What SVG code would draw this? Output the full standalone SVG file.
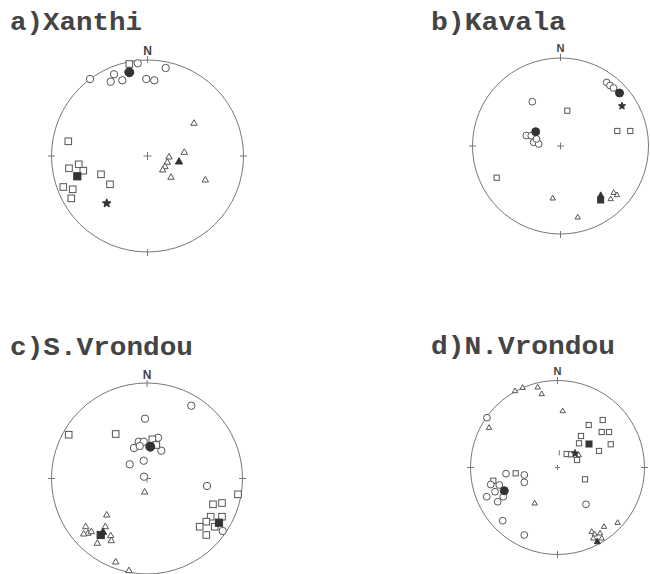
<svg xmlns="http://www.w3.org/2000/svg" xmlns:xlink="http://www.w3.org/1999/xlink" width="650" height="574" viewBox="0 0 650 574">
<style>
.title{font-family:"Liberation Mono","Courier New",monospace;font-weight:bold;font-size:26px;fill:#444}
.nlab{font-family:"Liberation Sans",Arial,sans-serif;font-weight:bold;fill:#444;text-anchor:middle}
.net{fill:none;stroke:#777;stroke-width:1}
.tick{stroke:#777;stroke-width:1}
.o{fill:#fff;stroke:#555;stroke-width:1}
.f{fill:#333;stroke:#333;stroke-width:1}
</style>
<defs>
<circle id="oc" class="o" r="3.7"/>
<circle id="fc" class="f" r="4.5"/>
<rect id="os" class="o" x="-3.3" y="-3.3" width="6.6" height="6.6"/>
<rect id="fs" class="f" x="-3.6" y="-3.6" width="7.2" height="7.2"/>
<polygon id="ot" class="o" points="0,-3.6 3.2,2 -3.2,2"/>
<polygon id="ft" class="f" points="0,-4 3.6,2.3 -3.6,2.3"/>
<polygon id="st" class="f" points="0,-4.5 1.18,-1.62 4.28,-1.39 1.9,0.62 2.65,3.64 0,2 -2.65,3.64 -1.9,0.62 -4.28,-1.39 -1.18,-1.62"/>
<circle id="oc2" class="o" r="3.4"/>
<circle id="fc2" class="f" r="4"/>
<rect id="os2" class="o" x="-2.6" y="-2.6" width="5.2" height="5.2"/>
<rect id="fs2" class="f" x="-3" y="-3" width="6" height="6"/>
<polygon id="ot2" class="o" points="0,-3 2.7,1.7 -2.7,1.7"/>
<polygon id="ft2" class="f" points="0,-3.6 3,2 -3,2"/>
<polygon id="st2" class="f" points="0,-3.8 1,-1.37 3.6,-1.17 1.6,0.52 2.23,3.07 0,1.7 -2.23,3.07 -1.6,0.52 -3.6,-1.17 -1,-1.37"/>
</defs>
<rect width="650" height="574" fill="#fff"/>

<g id="net-a">
<text class="title" x="10" y="30" textLength="132" lengthAdjust="spacingAndGlyphs">a)Xanthi</text>
<text class="nlab" x="147.5" y="54.5" font-size="12">N</text>
<circle class="net" cx="147.5" cy="156" r="96"/>
<line class="tick" x1="147.5" y1="56" x2="147.5" y2="63"/>
<line class="tick" x1="147.5" y1="249" x2="147.5" y2="256"/>
<line class="tick" x1="48" y1="156" x2="55" y2="156"/>
<line class="tick" x1="240" y1="156" x2="247" y2="156"/>
<line class="tick" x1="143.5" y1="156" x2="151.5" y2="156"/>
<line class="tick" x1="147.5" y1="152" x2="147.5" y2="160"/>
<use xlink:href="#oc" x="90" y="79"/>
<use xlink:href="#oc" x="114" y="74.3"/>
<use xlink:href="#oc" x="110.7" y="81.7"/>
<use xlink:href="#oc" x="122.3" y="80.3"/>
<use xlink:href="#oc" x="146.3" y="79"/>
<use xlink:href="#oc" x="154.3" y="80.3"/>
<use xlink:href="#oc" x="165.7" y="68"/>
<use xlink:href="#oc" x="137.7" y="63.3"/>
<use xlink:href="#os" x="129.3" y="64"/>
<use xlink:href="#fc" x="129.3" y="72.3"/>
<use xlink:href="#ot" x="194" y="123.3"/>
<use xlink:href="#ot" x="184.3" y="152.3"/>
<use xlink:href="#ot" x="169" y="157"/>
<use xlink:href="#ot" x="167.3" y="162.3"/>
<use xlink:href="#ot" x="165" y="166.7"/>
<use xlink:href="#ot" x="162.7" y="170"/>
<use xlink:href="#ot" x="171" y="177.3"/>
<use xlink:href="#ot" x="205.3" y="180"/>
<use xlink:href="#ft" x="179" y="161.7"/>
<use xlink:href="#os" x="68.3" y="141.3"/>
<use xlink:href="#os" x="78.7" y="164.3"/>
<use xlink:href="#os" x="69" y="168.3"/>
<use xlink:href="#os" x="83.3" y="170.7"/>
<use xlink:href="#os" x="101" y="174.3"/>
<use xlink:href="#os" x="110" y="184.3"/>
<use xlink:href="#os" x="63.3" y="187"/>
<use xlink:href="#os" x="72.7" y="189.3"/>
<use xlink:href="#os" x="71.3" y="198.3"/>
<use xlink:href="#fs" x="77.3" y="176.3"/>
<use xlink:href="#st" x="106.7" y="203.3"/>
</g>

<g id="net-b">
<text class="title" x="431" y="30" textLength="135" lengthAdjust="spacingAndGlyphs">b)Kavala</text>
<text class="nlab" x="560.5" y="51.7" font-size="11">N</text>
<circle class="net" cx="560.5" cy="146" r="88"/>
<line class="tick" x1="560.5" y1="54" x2="560.5" y2="61"/>
<line class="tick" x1="560.5" y1="231" x2="560.5" y2="238"/>
<line class="tick" x1="469" y1="146" x2="476" y2="146"/>
<line class="tick" x1="557" y1="146" x2="564" y2="146"/>
<line class="tick" x1="560.5" y1="142.5" x2="560.5" y2="149.5"/>
<use xlink:href="#oc2" x="606.7" y="82.5"/>
<use xlink:href="#oc2" x="610" y="85.5"/>
<use xlink:href="#oc2" x="613.5" y="88"/>
<use xlink:href="#fc2" x="619.5" y="93"/>
<use xlink:href="#st2" x="622" y="106"/>
<use xlink:href="#oc2" x="532.3" y="101.7"/>
<use xlink:href="#os2" x="567.3" y="110.7"/>
<use xlink:href="#os2" x="617.3" y="131"/>
<use xlink:href="#os2" x="630.3" y="131"/>
<use xlink:href="#oc2" x="526.3" y="135.5"/>
<use xlink:href="#oc2" x="531.3" y="135.7"/>
<use xlink:href="#oc2" x="533.7" y="142.3"/>
<use xlink:href="#oc2" x="538.7" y="144"/>
<use xlink:href="#oc2" x="536.5" y="139"/>
<use xlink:href="#fc2" x="535.7" y="131.7"/>
<use xlink:href="#os2" x="496.7" y="177.7"/>
<use xlink:href="#ot2" x="552.7" y="198.3"/>
<use xlink:href="#ot2" x="577.7" y="217.3"/>
<use xlink:href="#ot2" x="613.7" y="192.7"/>
<use xlink:href="#ot2" x="617" y="195"/>
<use xlink:href="#ot2" x="610.7" y="199"/>
<use xlink:href="#fs2" x="600.7" y="200"/>
<use xlink:href="#ft2" x="600.7" y="195.5"/>
</g>

<g id="net-c">
<text class="title" x="10" y="355" textLength="183" lengthAdjust="spacingAndGlyphs">c)S.Vrondou</text>
<text class="nlab" x="147" y="378.7" font-size="12">N</text>
<circle class="net" cx="147" cy="478.5" r="95.5"/>
<line class="tick" x1="147" y1="380" x2="147" y2="387"/>
<line class="tick" x1="48" y1="478.5" x2="55" y2="478.5"/>
<line class="tick" x1="239" y1="478.5" x2="246" y2="478.5"/>
<line class="tick" x1="143" y1="478.5" x2="151" y2="478.5"/>
<line class="tick" x1="147" y1="474.5" x2="147" y2="482.5"/>
<use xlink:href="#oc" x="191.3" y="405.7"/>
<use xlink:href="#oc" x="145" y="418.7"/>
<use xlink:href="#os" x="68.7" y="434.7"/>
<use xlink:href="#os" x="115.7" y="434"/>
<use xlink:href="#oc" x="138.7" y="441.7"/>
<use xlink:href="#oc" x="134" y="448"/>
<use xlink:href="#oc" x="143.7" y="441.7"/>
<use xlink:href="#oc" x="139.7" y="446"/>
<use xlink:href="#oc" x="158" y="437.7"/>
<use xlink:href="#oc" x="161.3" y="450.7"/>
<use xlink:href="#os" x="152.3" y="439.3"/>
<use xlink:href="#os" x="156.3" y="445"/>
<use xlink:href="#fc" x="150.3" y="446.7"/>
<use xlink:href="#oc" x="129.7" y="464.3"/>
<use xlink:href="#oc" x="143.7" y="460.7"/>
<use xlink:href="#oc" x="144" y="476.7"/>
<use xlink:href="#ot" x="144.7" y="492"/>
<use xlink:href="#oc" x="207" y="486"/>
<use xlink:href="#os" x="238" y="494.3"/>
<use xlink:href="#os" x="213" y="504.3"/>
<use xlink:href="#os" x="222" y="503"/>
<use xlink:href="#os" x="210.7" y="516.7"/>
<use xlink:href="#os" x="222" y="516.7"/>
<use xlink:href="#os" x="206.3" y="521.7"/>
<use xlink:href="#os" x="199.7" y="526.7"/>
<use xlink:href="#os" x="214.7" y="526.7"/>
<use xlink:href="#os" x="206.3" y="535"/>
<use xlink:href="#oc" x="222.7" y="531"/>
<use xlink:href="#fs" x="219" y="522.7"/>
<use xlink:href="#ot" x="106.7" y="515"/>
<use xlink:href="#ot" x="85.7" y="526.7"/>
<use xlink:href="#ot" x="88" y="533.3"/>
<use xlink:href="#ot" x="83.7" y="534"/>
<use xlink:href="#ot" x="91.3" y="531.7"/>
<use xlink:href="#ot" x="105.3" y="526.7"/>
<use xlink:href="#ot" x="97.3" y="543.3"/>
<use xlink:href="#ot" x="110.7" y="535.7"/>
<use xlink:href="#ot" x="111.3" y="540.7"/>
<use xlink:href="#fs" x="100.7" y="535"/>
<use xlink:href="#ft" x="103" y="532"/>
<use xlink:href="#ot" x="115.7" y="562"/>
<use xlink:href="#ot" x="129" y="570.7"/>
</g>

<g id="net-d">
<text class="title" x="431" y="354" textLength="184" lengthAdjust="spacingAndGlyphs">d)N.Vrondou</text>
<text class="nlab" x="557.5" y="374.7" font-size="11">N</text>
<circle class="net" cx="557.5" cy="467.5" r="87"/>
<line class="tick" x1="557.5" y1="377" x2="557.5" y2="384"/>
<line class="tick" x1="557.5" y1="551" x2="557.5" y2="558"/>
<line class="tick" x1="467" y1="467.5" x2="474" y2="467.5"/>
<line class="tick" x1="641" y1="467.5" x2="648" y2="467.5"/>
<line class="tick" x1="555" y1="467.5" x2="560" y2="467.5"/>
<line class="tick" x1="557.5" y1="465" x2="557.5" y2="470"/>
<use xlink:href="#ot2" x="515" y="391"/>
<use xlink:href="#ot2" x="522.7" y="387.7"/>
<use xlink:href="#ot2" x="537.7" y="387.3"/>
<use xlink:href="#ot2" x="541.7" y="394"/>
<use xlink:href="#ot2" x="562.7" y="411"/>
<use xlink:href="#oc2" x="487" y="417.7"/>
<use xlink:href="#ot2" x="489" y="427.7"/>
<use xlink:href="#os2" x="588.7" y="425"/>
<use xlink:href="#os2" x="602.7" y="420"/>
<use xlink:href="#os2" x="601.7" y="432"/>
<use xlink:href="#os2" x="609" y="432"/>
<use xlink:href="#os2" x="581" y="436"/>
<use xlink:href="#os2" x="610.7" y="444.3"/>
<use xlink:href="#os2" x="579" y="443.3"/>
<use xlink:href="#os2" x="599" y="451"/>
<use xlink:href="#fs2" x="589" y="444"/>
<line class="tick" x1="559.3" y1="450" x2="559.3" y2="455.5"/>
<use xlink:href="#os2" x="566.7" y="454"/>
<use xlink:href="#os2" x="571" y="454.3"/>
<use xlink:href="#ot2" x="578.7" y="455"/>
<use xlink:href="#os2" x="577" y="460"/>
<use xlink:href="#st2" x="575" y="453.3"/>
<use xlink:href="#oc2" x="506" y="473.7"/>
<use xlink:href="#os2" x="515.7" y="473.3"/>
<use xlink:href="#oc2" x="524.3" y="475"/>
<use xlink:href="#oc2" x="524.3" y="482.3"/>
<use xlink:href="#os2" x="493.3" y="480.7"/>
<use xlink:href="#oc2" x="490.7" y="484.5"/>
<use xlink:href="#oc2" x="499.3" y="485"/>
<use xlink:href="#oc2" x="495" y="491.7"/>
<use xlink:href="#oc2" x="486.7" y="496.7"/>
<use xlink:href="#oc2" x="503.3" y="496.7"/>
<use xlink:href="#oc2" x="497.7" y="501.7"/>
<use xlink:href="#fc2" x="504.3" y="490.7"/>
<use xlink:href="#os2" x="585" y="479.3"/>
<use xlink:href="#ot2" x="534.7" y="503.3"/>
<use xlink:href="#oc2" x="586" y="504.3"/>
<use xlink:href="#oc2" x="502.7" y="520.7"/>
<use xlink:href="#oc2" x="524.3" y="535"/>
<use xlink:href="#ot2" x="617.7" y="522.7"/>
<use xlink:href="#ot2" x="604" y="526.7"/>
<use xlink:href="#ot2" x="591.7" y="531.7"/>
<use xlink:href="#ot2" x="594.7" y="534.3"/>
<use xlink:href="#ot2" x="600" y="533.3"/>
<use xlink:href="#ot2" x="601.7" y="538.3"/>
<use xlink:href="#ot2" x="593.3" y="538.3"/>
<use xlink:href="#ft2" x="597.3" y="541.7"/>
</g>
</svg>
